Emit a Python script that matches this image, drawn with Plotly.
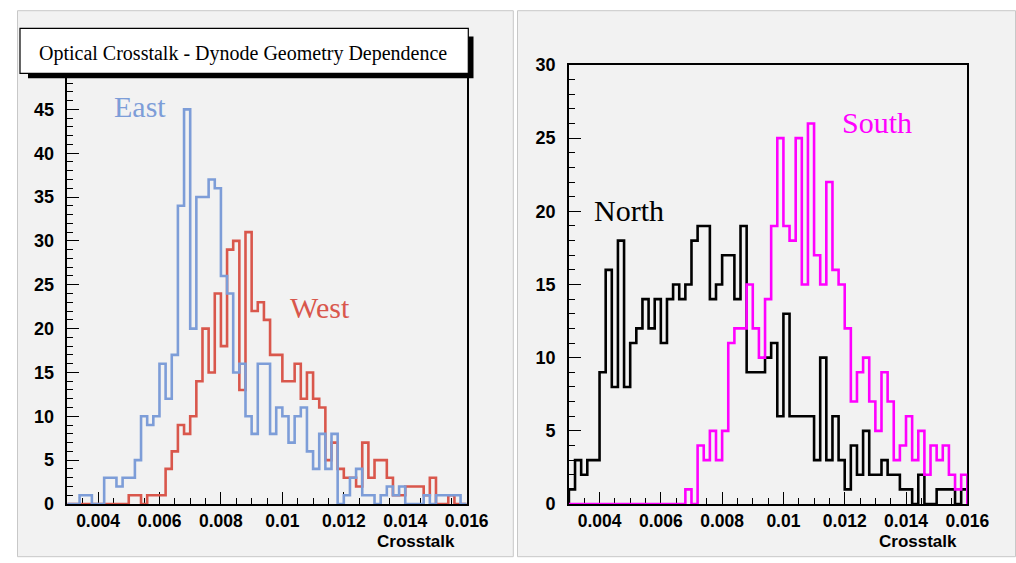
import numpy as np
import plotly.graph_objects as go

# ---------------- data (bin contents, 65 bins of 0.0002 from 0.003 to 0.016) ----------------
X_MIN = 0.003
BIN_W = 0.0002

east = [0, 0, 1, 1, 0, 0, 3, 3, 2, 3, 3, 5, 10, 9, 10, 16, 12, 17, 34, 45,
        20, 35, 35, 37, 36, 26, 24, 15, 16, 10, 8, 16, 16, 8, 11, 10, 7, 10, 11, 6,
        4, 8, 4, 8, 0, 1, 3, 4, 1, 1, 0, 1, 2, 1, 2, 0, 0, 0, 1, 0,
        1, 1, 1, 1, 0]
west = [0, 0, 0, 0, 0, 0, 0, 0, 0, 0, 1, 1, 0, 1, 1, 1, 4, 6, 9, 8,
        10, 14, 20, 15, 24, 18, 29, 30, 13, 31, 22, 23, 21, 17, 17, 14, 14, 16, 12, 15,
        12, 11, 5, 7, 4, 3, 3, 2, 7, 3, 5, 5, 3, 1, 1, 2, 2, 2, 1, 3,
        0, 0, 1, 0, 0]
north = [1, 3, 2, 3, 3, 9, 16, 8, 18, 8, 11, 12, 14, 12, 14, 11, 14, 15, 14, 15,
         18, 19, 19, 14, 15, 17, 17, 14, 19, 9, 9, 9, 10, 11, 6, 13, 6, 6, 6, 6,
         3, 10, 3, 6, 3, 1, 4, 2, 5, 2, 2, 3, 2, 2, 1, 1, 0, 2, 0, 0,
         1, 1, 1, 0, 1]
south = [0, 0, 0, 0, 0, 0, 0, 0, 0, 0, 0, 0, 0, 0, 0, 0, 0, 0, 0, 1,
         0, 4, 3, 5, 3, 5, 11, 12, 12, 15, 12, 10, 14, 19, 25, 19, 18, 25, 15, 26,
         17, 15, 22, 16, 15, 12, 7, 9, 10, 7, 5, 9, 7, 3, 4, 6, 3, 5, 2, 4,
         3, 4, 2, 1, 2]

x_tick_vals = [0.004, 0.006, 0.008, 0.010, 0.012, 0.014, 0.016]
x_tick_text = ["0.004", "0.006", "0.008", "0.01", "0.012", "0.014", "0.016"]
y_tick_vals_left = [0, 5, 10, 15, 20, 25, 30, 35, 40, 45]
y_tick_vals_right = [0, 5, 10, 15, 20, 25, 30]

title_text = "Optical Crosstalk - Dynode Geometry Dependence"
x_title = "Crosstalk"

C_EAST = "#7d9dd8"
C_WEST = "#d9574c"
C_NORTH = "#000000"
C_SOUTH = "#ff00ff"
PAD_BG = "#f2f2f2"

W, H = 1016, 563


def px(x):
    return x / W


def py(y):
    return 1 - y / H


def step(values):
    n = len(values)
    edges = X_MIN + BIN_W * np.arange(n + 1)
    xs = [edges[0]] + list(edges[:-1]) + [edges[-1], edges[-1]]
    ys = [0] + list(values) + [values[-1], 0]
    return xs, ys


fig = go.Figure()


def add_hist(vals, color, xa, ya):
    xs, ys = step(vals)
    fig.add_trace(go.Scatter(x=xs, y=ys, mode="lines", line=dict(color=color, width=2.6, shape="hv"),
                             xaxis=xa, yaxis=ya, cliponaxis=False, hoverinfo="skip", showlegend=False))


add_hist(west, C_WEST, "x", "y")
add_hist(east, C_EAST, "x", "y")
add_hist(north, C_NORTH, "x2", "y2")
add_hist(south, C_SOUTH, "x2", "y2")

tickfont_y = dict(family="Liberation Sans", size=18, color="black", weight="bold")
tickfont_x = dict(family="Liberation Sans", size=17.5, color="black", weight="bold")

common_x = dict(range=[0.003, 0.016], showline=True, linecolor="black", linewidth=1.5, mirror=True,
                ticks="inside", ticklen=12, tickwidth=1.2, tickcolor="black",
                tickvals=x_tick_vals, ticktext=x_tick_text, tickfont=tickfont_x,
                minor=dict(dtick=0.0005, tick0=0, ticks="inside", ticklen=6, tickwidth=1.2, tickcolor="black"),
                showgrid=False, zeroline=False, layer="below traces", ticklabelstandoff=0, automargin=False)
common_y = dict(showline=True, linecolor="black", linewidth=1.5, mirror=True,
                ticks="inside", ticklen=12, tickwidth=1.2, tickcolor="black", tickfont=tickfont_y,
                minor=dict(dtick=1, tick0=0, ticks="inside", ticklen=6, tickwidth=1.2, tickcolor="black"),
                showgrid=False, zeroline=False, layer="below traces", ticklabelstandoff=8, automargin=False)

y_bot = py(504)
fig.update_layout(
    width=W, height=H, autosize=False,
    margin=dict(l=0, r=0, t=0, b=0, pad=0, autoexpand=False),
    paper_bgcolor="white", plot_bgcolor=PAD_BG,
    xaxis=dict(domain=[px(67.3), px(466.7)], anchor="y", **common_x),
    yaxis=dict(domain=[y_bot, py(45)], anchor="x", range=[0, (504 - 45) / 8.77],
               tickvals=y_tick_vals_left, **common_y),
    xaxis2=dict(domain=[px(568.9), px(967.3)], anchor="y2", **common_x),
    yaxis2=dict(domain=[y_bot, py(65)], anchor="x2", range=[0, 30],
                tickvals=y_tick_vals_right, **common_y),
)

shapes = []
# pads
for x0, x1 in [(17.5, 513.3), (517.5, 1015.5)]:
    shapes.append(dict(type="rect", xref="paper", yref="paper", x0=px(x0), x1=px(x1), y0=py(556.7), y1=py(10.7),
                       fillcolor=PAD_BG, line=dict(color="#c8c8c8", width=1), layer="below"))
# title box shadow and box
shapes.append(dict(type="rect", xref="paper", yref="paper", x0=px(28), x1=px(473.5), y0=py(78.3), y1=py(36.5),
                   fillcolor="black", line=dict(width=0), layer="above"))
shapes.append(dict(type="rect", xref="paper", yref="paper", x0=px(20), x1=px(468.3), y0=py(73.3), y1=py(28.3),
                   fillcolor="white", line=dict(color="black", width=1.2), layer="above"))
fig.update_layout(shapes=shapes)

serif = "Liberation Serif"
annotations = [
    dict(text=title_text, x=px(243), y=py(53), xref="paper", yref="paper", showarrow=False,
         xanchor="center", yanchor="middle", font=dict(family=serif, size=20, color="black")),
    dict(text="East", x=px(139.7), y=py(106.7), xref="paper", yref="paper", showarrow=False,
         xanchor="center", yanchor="middle", font=dict(family=serif, size=30, color=C_EAST)),
    dict(text="West", x=px(320), y=py(307.8), xref="paper", yref="paper", showarrow=False,
         xanchor="center", yanchor="middle", font=dict(family=serif, size=30, color=C_WEST)),
    dict(text="North", x=px(629.3), y=py(210.8), xref="paper", yref="paper", showarrow=False,
         xanchor="center", yanchor="middle", font=dict(family=serif, size=30, color=C_NORTH)),
    dict(text="South", x=px(877.2), y=py(122.5), xref="paper", yref="paper", showarrow=False,
         xanchor="center", yanchor="middle", font=dict(family=serif, size=30, color=C_SOUTH)),
    dict(text=x_title, x=px(457), y=py(541), xref="paper", yref="paper", showarrow=False,
         xanchor="right", yanchor="middle", font=dict(family="Liberation Sans", size=17, color="black", weight="bold")),
    dict(text=x_title, x=px(959), y=py(541), xref="paper", yref="paper", showarrow=False,
         xanchor="right", yanchor="middle", font=dict(family="Liberation Sans", size=17, color="black", weight="bold")),
]
fig.update_layout(annotations=annotations)

post = ("document.documentElement.style.margin='0';document.documentElement.style.overflow='hidden';"
        "document.body.style.margin='0';document.body.style.padding='0';document.body.style.overflow='hidden';"
        "var d=document.getElementById('{plot_id}');d.style.position='absolute';d.style.left='0px';d.style.top='0px';")
fig.write_html("out.html", config={"displayModeBar": False}, default_width="1016px", default_height="563px",
               post_script=post)
